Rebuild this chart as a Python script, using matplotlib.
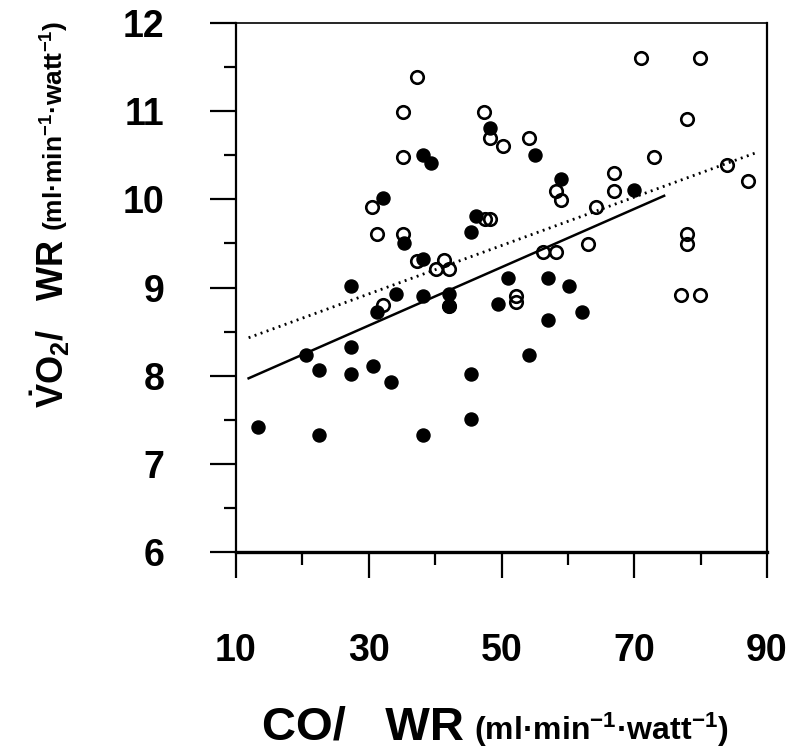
import numpy as np
import matplotlib
matplotlib.use("Agg")
import matplotlib.pyplot as plt

plt.rcParams['font.family'] = ['Liberation Sans', 'DejaVu Sans']
plt.rcParams['mathtext.fontset'] = 'custom'
plt.rcParams['mathtext.rm'] = 'Liberation Sans:bold'
plt.rcParams['mathtext.it'] = 'Liberation Sans:bold'
plt.rcParams['mathtext.bf'] = 'Liberation Sans:bold'

# filled circles
filled_x = [13.3, 20.5, 22.5, 22.5, 27.3, 27.3, 27.3, 30.6, 31.3, 32.2, 33.4, 34.1,
            35.3, 38.1, 38.2, 38.2, 38.2, 39.4, 42.1, 42.1, 45.4, 45.4, 45.4, 46.2,
            48.3, 49.4, 51.0, 54.2, 55.0, 57.05, 57.05, 59.0, 60.2, 62.2, 69.9]
filled_y = [7.42, 8.23, 8.06, 7.33, 9.02, 8.33, 8.02, 8.11, 8.72, 10.02, 7.93, 8.93,
            9.51, 9.32, 8.90, 7.33, 10.50, 10.41, 8.93, 8.79, 8.02, 7.51, 9.63, 9.81,
            10.81, 8.81, 9.11, 8.23, 10.50, 9.11, 8.63, 10.23, 9.02, 8.72, 10.11]

# open circles
open_x = [30.5, 31.3, 32.2, 35.2, 35.2, 35.2, 37.2, 37.3, 40.1, 41.3, 42.1, 42.1,
          47.4, 47.5, 48.2, 48.3, 50.2, 52.2, 52.2, 54.2, 56.2, 58.2, 58.2, 59.0,
          63.0, 64.2, 67.0, 67.0, 71.0, 73.0, 77.0, 77.9, 77.9, 77.9, 79.9, 79.9,
          83.9, 87.1]
open_y = [9.91, 9.61, 8.80, 9.61, 10.48, 10.99, 9.30, 11.39, 9.21, 9.31, 9.21, 8.79,
          10.99, 9.78, 10.69, 9.78, 10.60, 8.90, 8.84, 10.69, 9.40, 9.40, 10.09, 9.99,
          9.49, 9.91, 10.30, 10.09, 11.6, 10.48, 8.91, 10.91, 9.61, 9.49, 11.6, 8.91,
          10.39, 10.21]

# regression lines (end points)
solid_fit_x = [11.9, 74.5]
solid_fit_y = [7.97, 10.04]
dotted_fit_x = [11.9, 88.4]
dotted_fit_y = [8.43, 10.53]

W, H = 792, 754
fig = plt.figure(figsize=(W / 100, H / 100), dpi=100)
ax = fig.add_axes([236 / W, 1 - 552 / H, (767 - 236) / W, (552 - 23) / H])

ax.plot(solid_fit_x, solid_fit_y, color='black', lw=1.8, zorder=2)
ax.plot(dotted_fit_x, dotted_fit_y, color='black', lw=2.0, ls=(0, (0.7, 1.6)), zorder=2)
ax.plot(filled_x, filled_y, 'o', color='black', ms=9.4, mew=1, zorder=3)
ax.plot(open_x, open_y, 'o', mfc='none', mec='black', ms=9.0, mew=1.9, zorder=4)

ax.set_xlim(10, 90)
ax.set_ylim(6, 12)
ax.set_xticks([10, 30, 50, 70, 90])
ax.set_xticks([20, 40, 60, 80], minor=True)
ax.set_yticks(range(6, 13))
ax.set_yticks(np.arange(6.5, 12, 1.0), minor=True)

for s in ['left', 'right']:
    ax.spines[s].set_linewidth(1.6)
ax.spines['top'].set_linewidth(1.2)
ax.spines['bottom'].set_linewidth(2.4)

ax.tick_params(which='major', direction='out', length=18.5, width=1.6, color='black')
ax.tick_params(which='minor', direction='out', length=9, width=1.6, color='black')
ax.tick_params(axis='x', which='major', pad=40, labelsize=27)
ax.tick_params(axis='y', which='major', pad=33, labelsize=27)
for lab in ax.get_xticklabels() + ax.get_yticklabels():
    lab.set_fontweight('bold')

units = r"(ml·min$^{-1}$·watt$^{-1}$)"
renderer = fig.canvas.get_renderer()

# x label in two sizes, units placed right after the main part
t1 = fig.text(262 / W, 1 - 740 / H, "CO/   WR", fontsize=34, fontweight='bold',
              ha='left', va='baseline')
bb = t1.get_window_extent(renderer)
fig.text((bb.x1 + 10) / W, 1 - 740 / H, units, fontsize=23,
         fontweight='bold', ha='left', va='baseline')

# y label, rotated, same idea going upwards
t2 = fig.text(64 / W, 1 - 408 / H, r"$\dot{V}$O$_2$/   WR", fontsize=26, fontweight='bold',
              rotation=90, rotation_mode='anchor', ha='left', va='baseline')
bb = t2.get_window_extent(renderer)
fig.text(64 / W, (bb.y1 + 8) / H, units, fontsize=19,
         fontweight='bold', rotation=90, rotation_mode='anchor', ha='left', va='baseline')

fig.savefig("out.png", dpi=100)
